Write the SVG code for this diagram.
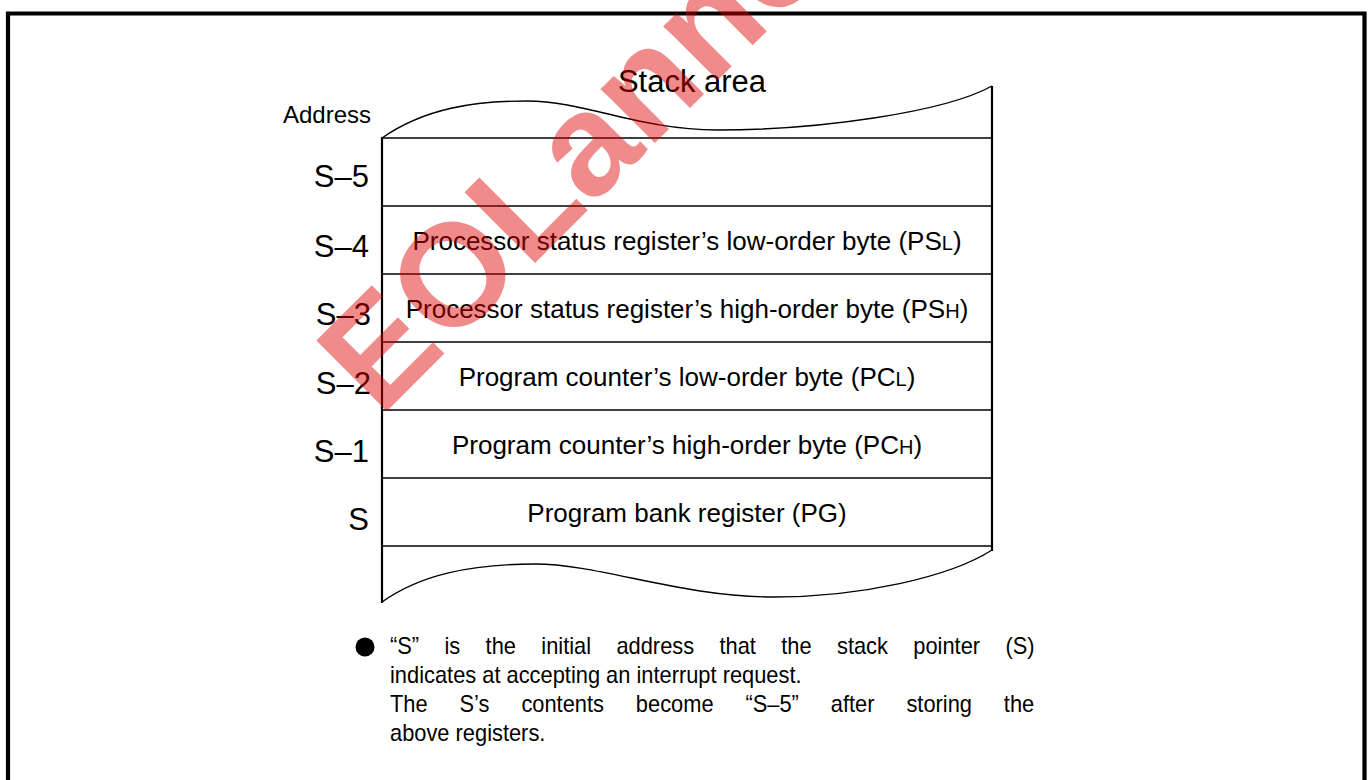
<svg xmlns="http://www.w3.org/2000/svg" width="1370" height="780" viewBox="0 0 1370 780">
<style>
text{font-family:"Liberation Sans",Arial,sans-serif;fill:#000}
.lbl{font-size:31px;text-anchor:end}
.row{font-size:26px;text-anchor:middle}
.sub{font-size:20px}
.note{font-size:23px}
.thin{fill:none;stroke:#000;stroke-width:1.4}
.thick{fill:none;stroke:#000;stroke-width:2.2}
.wm{font-size:145px;font-weight:bold;fill:#e00000;opacity:0.45}
</style>
<rect width="1370" height="780" fill="#fff"/>
<path d="M8,790 V13.5 H1364.5 V790" fill="none" stroke="#000" stroke-width="4.2"/>
<g id="stack">
<path class="thin" d="M382,138 C425,108 475,101 527,101 C585,101 640,130 717,130 C820,130 945,112 992,86"/>
<path class="thin" d="M382,602 C420,575 470,564 535,564 C600,564 680,597 774,597 C860,597 950,577 992,550"/>
<line class="thick" x1="382" y1="137" x2="382" y2="603"/>
<line class="thick" x1="992" y1="86" x2="992" y2="551"/>
<g class="thin">
<line x1="382" y1="138" x2="992" y2="138"/>
<line x1="382" y1="206" x2="992" y2="206"/>
<line x1="382" y1="274" x2="992" y2="274"/>
<line x1="382" y1="342" x2="992" y2="342"/>
<line x1="382" y1="410" x2="992" y2="410"/>
<line x1="382" y1="478" x2="992" y2="478"/>
<line x1="382" y1="546" x2="992" y2="546"/>
</g>
<text x="692" y="92" style="font-size:31px;text-anchor:middle">Stack area</text>
</g>
<g id="labels">
<text x="371" y="123" style="font-size:24px;text-anchor:end">Address</text>
<text class="lbl" x="369" y="187">S–5</text>
<text class="lbl" x="369" y="257">S–4</text>
<text class="lbl" x="371" y="325">S–3</text>
<text class="lbl" x="371" y="394">S–2</text>
<text class="lbl" x="369" y="462">S–1</text>
<text class="lbl" x="369" y="530">S</text>
</g>
<g id="rows">
<text class="row" x="687" y="250">Processor status register’s low-order byte (PS<tspan class="sub">L</tspan>)</text>
<text class="row" x="687" y="318">Processor status register’s high-order byte (PS<tspan class="sub">H</tspan>)</text>
<text class="row" x="687" y="386">Program counter’s low-order byte (PC<tspan class="sub">L</tspan>)</text>
<text class="row" x="687" y="454">Program counter’s high-order byte (PC<tspan class="sub">H</tspan>)</text>
<text class="row" x="687" y="522">Program bank register (PG)</text>
</g>
<g id="note">
<circle cx="365" cy="647" r="9.5" fill="#000"/>
<g transform="translate(390,0) scale(0.95,1)">
<text class="note" x="0" y="654" style="word-spacing:20.3px">“S” is the initial address that the stack pointer (S)</text>
<text class="note" x="0" y="683">indicates at accepting an interrupt request.</text>
<text class="note" x="0" y="712" style="word-spacing:27.2px">The S’s contents become “S–5” after storing the</text>
<text class="note" x="0" y="741">above registers.</text>
</g>
</g>
<g id="watermark">
<text class="wm" transform="translate(380,418) rotate(-45)">EOLanno</text>
</g>
</svg>
